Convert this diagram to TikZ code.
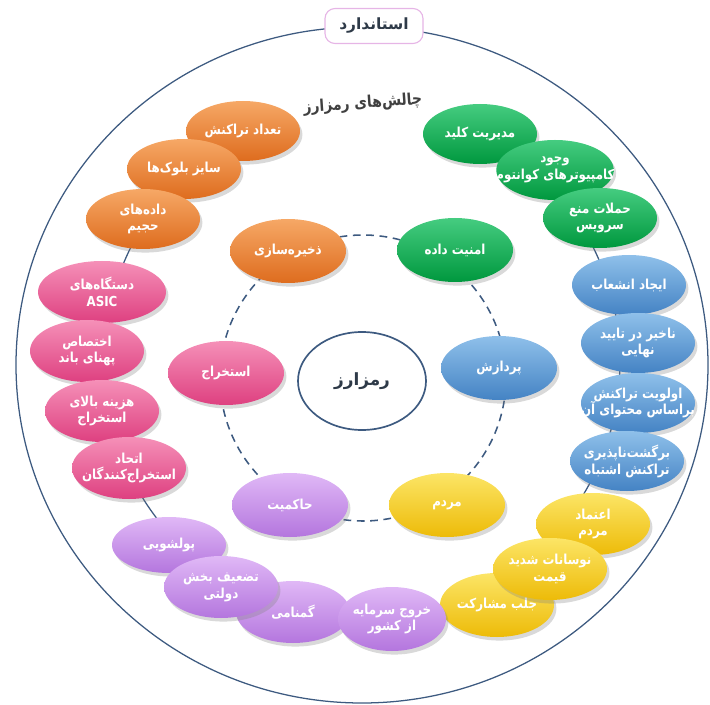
\documentclass[tikz,border=0pt]{standalone}
\usepackage{fontspec}
\usepackage{tikz}
\usetikzlibrary{shapes.geometric,shadows}
\newfontfamily\fafont[Script=Arabic,FakeStretch=0.86]{DejaVu Sans}
\newfontfamily\headfont[Script=Arabic]{DejaVu Sans}
\TeXXeTstate=1
\newcommand{\fa}[1]{\beginR#1\endR}
\definecolor{Rim}{HTML}{3D5A80}
\definecolor{Ink}{HTML}{2E3A48}
\definecolor{Lilac}{HTML}{E6B5E6}
\definecolor{OrTop}{HTML}{F6A866}
\definecolor{OrBot}{HTML}{DE6C1E}
\definecolor{GrTop}{HTML}{45CC80}
\definecolor{GrBot}{HTML}{00983E}
\definecolor{BlTop}{HTML}{8FC0EA}
\definecolor{BlBot}{HTML}{4483C4}
\definecolor{PkTop}{HTML}{F590B8}
\definecolor{PkBot}{HTML}{DE4080}
\definecolor{PuTop}{HTML}{E0B8F6}
\definecolor{PuBot}{HTML}{B476DE}
\definecolor{YeTop}{HTML}{FCE566}
\definecolor{YeBot}{HTML}{EDBB08}
\tikzset{
  blob/.style={ellipse,draw=none,inner xsep=-.45cm,inner ysep=-.12cm,align=center,text=white,
    font=\fafont\bfseries\fontsize{9.8}{12}\selectfont,
    drop shadow={opacity=.3,shadow xshift=.6mm,shadow yshift=-.9mm}},
  core/.style={blob,minimum width=2.9cm,minimum height=1.6cm},
  leaf/.style={blob,minimum width=2.85cm,minimum height=1.5cm},
  store/.style={top color=OrTop,bottom color=OrBot},
  secur/.style={top color=GrTop,bottom color=GrBot},
  proc/.style={top color=BlTop,bottom color=BlBot},
  mine/.style={top color=PkTop,bottom color=PkBot},
  gov/.style={top color=PuTop,bottom color=PuBot},
  folk/.style={top color=YeTop,bottom color=YeBot},
  rim/.style={draw=Rim,line width=.9pt},
  ring/.style={draw=Rim,line width=1.1pt,dash pattern=on 5.5pt off 4pt}
}
\begin{document}
\begin{tikzpicture}[x=1cm,y=1cm]
  \useasboundingbox (0,0) rectangle (17.75,17.6);
  \draw[rim] (9.05,8.475) ellipse [x radius=8.65,y radius=8.45];
  \draw[rim] (9.05,8.55) circle [radius=6.45];
  \draw[ring] (9.075,8.15) circle [radius=3.575];
  \node[fill=white,text=black!75,rotate=4,inner xsep=22pt,inner ysep=6pt,font=\fafont\bfseries\fontsize{11.5}{14}\selectfont] (head) at (9.07,15.0) {\fa{چالش‌های رمزارز}};
  \node[draw=Lilac,line width=.8pt,fill=white,rounded corners=2.5mm,minimum width=2.45cm,minimum height=.875cm,text=Ink,font=\headfont\bfseries\fontsize{11}{13}\selectfont] (std) at (9.35,16.95) {\fa{استاندارد}};
  \node[ellipse,rim,line width=1.2pt,minimum width=3.2cm,minimum height=2.45cm,text=Ink,font=\headfont\bfseries\fontsize{12}{14}\selectfont] (crypto) at (9.05,8.075) {\fa{رمزارز}};

  % inner ring
  \node[core,store] (storage) at (7.2,11.325) {\fa{ذخیره‌سازی}};
  \node[core,secur] (security) at (11.375,11.35) {\fa{امنیت داده}};
  \node[core,proc] (processing) at (12.475,8.4) {\fa{پردازش}};
  \node[core,mine] (mining) at (5.65,8.275) {\fa{استخراج}};
  \node[core,gov] (governance) at (7.25,4.975) {\fa{حاکمیت}};
  \node[core,folk] (people) at (11.175,4.975) {\fa{مردم}};

  % outer ring
  \node[leaf,store] (txcount) at (6.075,14.325) {\fa{تعداد تراکنش}};
  \node[leaf,store] (blocksize) at (4.6,13.375) {\fa{سایز بلوک‌ها}};
  \node[leaf,store] (bigdata) at (3.575,12.125) {\fa{داده‌های}\\\fa{حجیم}};
  \node[leaf,secur] (keymgmt) at (12.0,14.25) {\fa{مدیریت کلید}};
  \node[leaf,secur] (quantum) at (13.875,13.35) {\fa{وجود}\\\fa{کامپیوترهای کوانتوم}};
  \node[leaf,secur] (dos) at (15.0,12.15) {\fa{حملات منع}\\\fa{سرویس}};
  \node[leaf,proc] (fork) at (15.725,10.475) {\fa{ایجاد انشعاب}};
  \node[leaf,proc] (finality) at (15.95,9.025) {\fa{ناخیر در تایید}\\\fa{نهایی}};
  \node[leaf,proc] (priority) at (15.95,7.525) {\fa{اولویت تراکنش}\\\fa{براساس محتوای آن}};
  \node[leaf,proc] (irrev) at (15.675,6.075) {\fa{برگشت‌ناپذیری}\\\fa{تراکنش اشتباه}};
  \node[leaf,mine,minimum width=3.2cm,minimum height=1.55cm] (asic) at (2.55,10.3) {\fa{دستگاه‌های}\\ASIC};
  \node[leaf,mine,minimum height=1.55cm] (bandwidth) at (2.175,8.825) {\fa{اختصاص}\\\fa{پهنای باند}};
  \node[leaf,mine,minimum height=1.55cm] (minecost) at (2.55,7.325) {\fa{هزینه بالای}\\\fa{استخراج}};
  \node[leaf,mine,minimum height=1.55cm] (pools) at (3.225,5.9) {\fa{اتحاد}\\\fa{استخراج‌کنندگان}};
  \node[leaf,folk,minimum height=1.55cm] (trust) at (14.825,4.5) {\fa{اعتماد}\\\fa{مردم}};
  \node[leaf,folk,minimum height=1.6cm] (engage) at (12.425,2.475) {\fa{جلب مشارکت}};
  \node[leaf,folk,minimum height=1.55cm] (volatile) at (13.75,3.375) {\fa{نوسانات شدید}\\\fa{قیمت}};
  \node[leaf,gov,minimum height=1.4cm] (laundry) at (4.225,3.975) {\fa{پولشویی}};
  \node[leaf,gov,minimum height=1.55cm] (anon) at (7.325,2.3) {\fa{گمنامی}};
  \node[leaf,gov,minimum height=1.55cm] (govweak) at (5.525,2.925) {\fa{تضعیف بخش}\\\fa{دولتی}};
  \node[leaf,gov,minimum width=2.7cm,minimum height=1.6cm] (capflight) at (9.8,2.125) {\fa{خروج سرمایه}\\\fa{از کشور}};
\end{tikzpicture}
\end{document}
